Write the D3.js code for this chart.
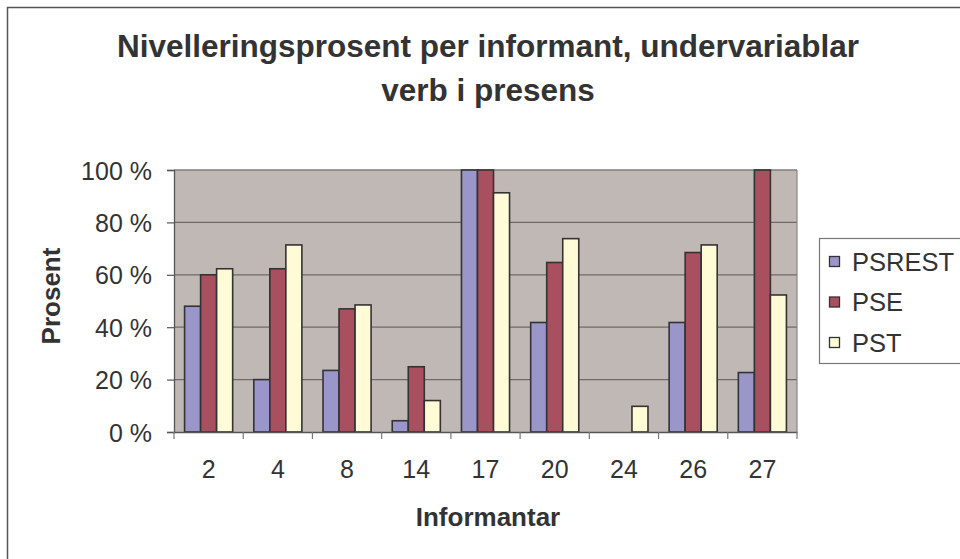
<!DOCTYPE html>
<html>
<head>
<meta charset="utf-8">
<script src="https://cdn.jsdelivr.net/npm/d3@7"></script>
<style>
  html, body { margin: 0; padding: 0; background: #fff; }
  svg { display: block; }
  text { font-family: "Liberation Sans", Arial, sans-serif; fill: #333; }
</style>
</head>
<body>
<svg id="chart" width="960" height="559"></svg>
<script>
const categories = ["2", "4", "8", "14", "17", "20", "24", "26", "27"];
const seriesNames = ["PSREST", "PSE", "PST"];
const psrest = [48, 20, 23.5, 4.3, 100, 41.8, 0, 41.8, 22.7];
const pse    = [60, 62.3, 47, 24.9, 100, 64.7, 0, 68.5, 100];
const pst    = [62.3, 71.4, 48.5, 12, 91.3, 73.8, 9.8, 71.4, 52.3];
const yTicks = [0, 20, 40, 60, 80, 100];
const colors = ["#9b96c9", "#a8505f", "#fffbd6"];
const titleLines = ["Nivelleringsprosent per informant, undervariablar", "verb i presens"];

const seriesValues = [psrest, pse, pst];
const FONT = '"Liberation Sans", Arial, sans-serif';

const svg = d3.select("#chart");

// outer chart border (clipped on right/bottom in original)
svg.append("rect").attr("x", 7.5).attr("y", 7.5).attr("width", 980).attr("height", 600)
  .attr("fill", "#fff").attr("stroke", "#555").attr("stroke-width", 1.5);

const plot = { left: 174, right: 797, top: 170, bottom: 432 };

const x0 = d3.scaleBand().domain(categories).range([plot.left, plot.right]).paddingInner(0).paddingOuter(0);
const x1 = d3.scaleBand().domain(seriesNames).range([0, x0.bandwidth()]).paddingInner(0).paddingOuter(0.66);
const y = d3.scaleLinear().domain([0, 100]).range([plot.bottom, plot.top]);

// plot background
svg.append("rect").attr("x", plot.left).attr("y", plot.top)
  .attr("width", plot.right - plot.left).attr("height", plot.bottom - plot.top)
  .attr("fill", "#c0b8b5");

// gridlines
svg.append("g").selectAll("line").data(yTicks.filter(d => d > 0)).join("line")
  .attr("x1", plot.left).attr("x2", plot.right)
  .attr("y1", d => y(d)).attr("y2", d => y(d))
  .attr("stroke", "#6f6a69").attr("stroke-width", 1.2);

// plot border (top/right)
svg.append("line").attr("x1", plot.right).attr("x2", plot.right)
  .attr("y1", plot.top).attr("y2", plot.bottom).attr("stroke", "#8a8584").attr("stroke-width", 1.2);
svg.append("line").attr("x1", plot.left).attr("x2", plot.right)
  .attr("y1", plot.top).attr("y2", plot.top).attr("stroke", "#8a8584").attr("stroke-width", 1.2);

// bars
const groups = svg.append("g").selectAll("g").data(categories).join("g")
  .attr("transform", d => `translate(${x0(d)},0)`);
groups.selectAll("rect").data((c, i) => seriesNames.map((s, j) => ({ s, j, v: seriesValues[j][i] })).filter(d => d.v > 0))
  .join("rect")
  .attr("x", d => x1(d.s))
  .attr("width", x1.bandwidth())
  .attr("y", d => y(d.v))
  .attr("height", d => y(0) - y(d.v))
  .attr("fill", d => colors[d.j])
  .attr("stroke", "#333")
  .attr("stroke-width", 1.6);

// y axis
const yAxis = d3.axisLeft(y).tickValues(yTicks).tickFormat(d => d + " %").tickSize(7).tickPadding(15);
const gy = svg.append("g").attr("transform", `translate(${plot.left},0)`).call(yAxis);
gy.select(".domain").attr("stroke", "#555").attr("stroke-width", 1.3);
gy.selectAll(".tick line").attr("stroke", "#555").attr("stroke-width", 1.2);
gy.selectAll(".tick text").attr("font-size", 25).attr("fill", "#333").attr("dy", "0.36em")
  .style("font-family", FONT);

// x axis
const xAxis = d3.axisBottom(x0).tickSize(0);
const gx = svg.append("g").attr("transform", `translate(0,${plot.bottom})`).call(xAxis);
gx.select(".domain").attr("stroke", "#555").attr("stroke-width", 1.3);
gx.selectAll(".tick text").attr("font-size", 25).attr("fill", "#333")
  .attr("y", 46).attr("dy", null)
  .style("font-family", FONT);
// category separator ticks
const boundaries = categories.map(c => x0(c)).concat([plot.right]);
svg.append("g").selectAll("line").data(boundaries).join("line")
  .attr("x1", d => d).attr("x2", d => d)
  .attr("y1", plot.bottom).attr("y2", plot.bottom + 7)
  .attr("stroke", "#777").attr("stroke-width", 1.2);

// title
svg.append("g").selectAll("text").data(titleLines).join("text")
  .attr("x", 488).attr("y", (d, i) => 57 + i * 44)
  .attr("text-anchor", "middle").attr("font-size", 31.5).attr("font-weight", "bold")
  .text(d => d);

// axis titles
svg.append("text").attr("x", 488).attr("y", 526).attr("text-anchor", "middle")
  .attr("font-size", 26).attr("font-weight", "bold").text("Informantar");
svg.append("text").attr("transform", "translate(60,296) rotate(-90)").attr("text-anchor", "middle")
  .attr("font-size", 26).attr("font-weight", "bold").text("Prosent");

// legend
const lg = svg.append("g");
lg.append("rect").attr("x", 819.5).attr("y", 238.5).attr("width", 200).attr("height", 125)
  .attr("fill", "#fff").attr("stroke", "#777").attr("stroke-width", 1.2);
const items = lg.selectAll("g").data(seriesNames).join("g")
  .attr("transform", (d, i) => `translate(0,${261 + i * 40.5})`);
items.append("rect").attr("x", 829.5).attr("y", -4.5).attr("width", 10).attr("height", 10)
  .attr("fill", (d, i) => colors[i]).attr("stroke", "#333").attr("stroke-width", 1.3);
items.append("text").attr("x", 852).attr("y", 9.5).attr("font-size", 25.5).text(d => d);
</script>
</body>
</html>
